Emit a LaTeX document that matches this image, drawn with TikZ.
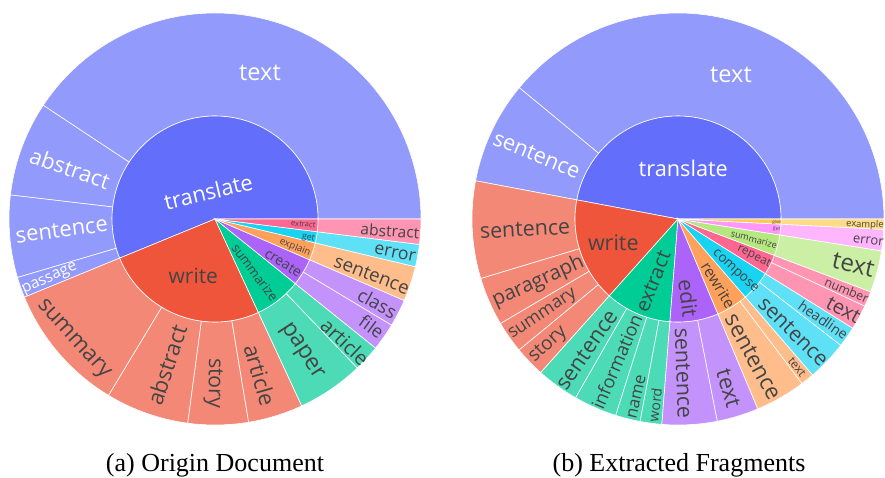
\documentclass[tikz,border=0pt]{standalone}
\usepackage{fontspec}
\setmainfont{Liberation Serif}
\newfontfamily\plotfont{Open Sans}
\usepackage{xcolor}
\usepackage{tikz}
\definecolor{pBlue}{HTML}{636EFA}
\definecolor{pRed}{HTML}{EF553B}
\definecolor{pGreen}{HTML}{00CC96}
\definecolor{pPurple}{HTML}{AB63FA}
\definecolor{pOrange}{HTML}{FFA15A}
\definecolor{pCyan}{HTML}{19D3F3}
\definecolor{pPink}{HTML}{FF6692}
\definecolor{pLime}{HTML}{B6E880}
\definecolor{pMagenta}{HTML}{FF97FF}
\definecolor{pYellow}{HTML}{FECB52}
\definecolor{darktxt}{HTML}{444444}
\newcommand{\pf}[1]{\plotfont\fontsize{#1}{#1}\selectfont}
% inner wedge: colour, radius, start, end
\newcommand{\piewedge}[4]{\fill[#1, sector] (0,0) -- (#3:#2) arc[start angle=#3, end angle=#4, radius=#2] -- cycle;}
% outer ring piece: colour, inner r, outer r, start, end
\newcommand{\ringpart}[5]{\fill[#1!70!white, sector] (#4:#2) arc[start angle=#4, end angle=#5, radius=#2] -- (#5:#3) arc[start angle=#5, end angle=#4, radius=#3] -- cycle;}
\tikzset{
    sector/.style={
        draw=white, line width=0.6pt
    },
    lbl/.style={
        inner sep=0pt, text=darktxt, anchor=center
    },
    lblw/.style={
        lbl, text=white
    },
    caption/.style={
        font=\fontsize{26}{26}\selectfont, inner sep=0pt, anchor=base
    }
}
\begin{document}
\begin{tikzpicture}[x=1pt, y=1pt]
    \useasboundingbox (0,0) rectangle (885,477);

    % 1. ORIGIN DOCUMENT
    \begin{scope}[shift={(215,258)}]
        \ringpart{pBlue}{103}{206}{0}{146.5}
        \ringpart{pBlue}{103}{206}{146.5}{173.3}
        \ringpart{pBlue}{103}{206}{173.3}{196.5}
        \ringpart{pBlue}{103}{206}{196.5}{202.3}
        \ringpart{pRed}{103}{206}{202.3}{238.9}
        \ringpart{pRed}{103}{206}{238.9}{262.4}
        \ringpart{pRed}{103}{206}{262.4}{279.4}
        \ringpart{pRed}{103}{206}{279.4}{294.9}
        \ringpart{pGreen}{103}{206}{294.9}{313.7}
        \ringpart{pGreen}{103}{206}{313.7}{321.2}
        \ringpart{pPurple}{103}{206}{321.2}{329}
        \ringpart{pPurple}{103}{206}{329}{336.7}
        \ringpart{pOrange}{103}{206}{336.7}{346.6}
        \ringpart{pCyan}{103}{206}{346.6}{352.9}
        \ringpart{pPink}{103}{206}{352.9}{360}
        \piewedge{pBlue}{103}{0}{202.3}
        \piewedge{pRed}{103}{202.3}{294.9}
        \piewedge{pGreen}{103}{294.9}{321.2}
        \piewedge{pPurple}{103}{321.2}{336.7}
        \piewedge{pOrange}{103}{336.7}{346.6}
        \piewedge{pCyan}{103}{346.6}{352.9}
        \piewedge{pPink}{103}{352.9}{360}

        % inner labels
        \node[lblw, rotate=13.5, font=\pf{22}] (aTranslate) at (-6.7,27.3) {translate};
        \node[lbl, font=\pf{21}] (aWrite) at (-21.7,-57) {write};
        \node[lbl, rotate=-53.3, font=\pf{13}] (aSummarize) at (40,-53.7) {summarize};
        \node[lbl, rotate=-32, font=\pf{14}] (aCreate) at (68.3,-44.3) {create};
        \node[lbl, rotate=-22.3, font=\pf{9.6}] (aExplain) at (80,-28.7) {explain};
        \node[lbl, rotate=-12, font=\pf{8.8}] (aGet) at (93.3,-18.7) {get};
        \node[lbl, rotate=-5, font=\pf{7.7}] (aExtract) at (88.3,-5.3) {extract};

        % outer labels
        \node[lblw, font=\pf{23.5}] (aText) at (45,146.3) {text};
        \node[lblw, rotate=-19.5, font=\pf{22}] (aAbstractT) at (-145,50.7) {abstract};
        \node[lblw, rotate=7.4, font=\pf{22}] (aSentenceT) at (-153.3,-11) {sentence};
        \node[lblw, rotate=24.4, font=\pf{15.6}] (aPassage) at (-165,-60.3) {passage};
        \node[lbl, rotate=-47.7, font=\pf{22.4}] (aSummary) at (-141.7,-121) {summary};
        \node[lbl, rotate=71.7, font=\pf{22}] (aAbstractW) at (-48.3,-146) {abstract};
        \node[lbl, rotate=-90.6, font=\pf{21.4}] (aStory) at (-1.7,-164.3) {story};
        \node[lbl, rotate=-73.9, font=\pf{22}] (aArticleW) at (45,-156) {article};
        \node[lbl, rotate=-56.8, font=\pf{23}] (aPaper) at (86.7,-132.7) {paper};
        \node[lbl, rotate=-43.3, font=\pf{20}] (aArticleS) at (130,-122.7) {article};
        \node[lbl, rotate=-36, font=\pf{18}] (aFile) at (156.7,-107.7) {file};
        \node[lbl, rotate=-29, font=\pf{18.5}] (aClass) at (162.3,-84.3) {class};
        \node[lbl, rotate=-21, font=\pf{18.7}] (aSentenceE) at (156.7,-56) {sentence};
        \node[lbl, rotate=-11, font=\pf{17.6}] (aError) at (180,-34.3) {error};
        \node[lbl, rotate=-4, font=\pf{15.6}] (aAbstractE) at (175,-12) {abstract};
    \end{scope}

    % 2. EXTRACTED FRAGMENTS
    \begin{scope}[shift={(678,258)}]
        \ringpart{pBlue}{103}{206}{0}{140.4}
        \ringpart{pBlue}{103}{206}{140.4}{169.3}
        \ringpart{pRed}{103}{206}{169.3}{196.8}
        \ringpart{pRed}{103}{206}{196.8}{210.5}
        \ringpart{pRed}{103}{206}{210.5}{219.5}
        \ringpart{pRed}{103}{206}{219.5}{228.2}
        \ringpart{pGreen}{103}{206}{228.2}{240.2}
        \ringpart{pGreen}{103}{206}{240.2}{252.4}
        \ringpart{pGreen}{103}{206}{252.4}{259.4}
        \ringpart{pGreen}{103}{206}{259.4}{265.5}
        \ringpart{pPurple}{103}{206}{265.5}{281}
        \ringpart{pPurple}{103}{206}{281}{292.8}
        \ringpart{pOrange}{103}{206}{292.8}{307}
        \ringpart{pOrange}{103}{206}{307}{310.8}
        \ringpart{pCyan}{103}{206}{310.8}{322.2}
        \ringpart{pCyan}{103}{206}{322.2}{328}
        \ringpart{pPink}{103}{206}{328}{335}
        \ringpart{pPink}{103}{206}{335}{339.3}
        \ringpart{pLime}{103}{206}{339.3}{351.1}
        \ringpart{pMagenta}{103}{206}{351.1}{357.1}
        \ringpart{pYellow}{103}{206}{357.1}{360}
        \piewedge{pBlue}{103}{0}{169.3}
        \piewedge{pRed}{103}{169.3}{228.2}
        \piewedge{pGreen}{103}{228.2}{265.5}
        \piewedge{pPurple}{103}{265.5}{292.8}
        \piewedge{pOrange}{103}{292.8}{310.8}
        \piewedge{pCyan}{103}{310.8}{328}
        \piewedge{pPink}{103}{328}{339.3}
        \piewedge{pLime}{103}{339.3}{351.1}
        \piewedge{pMagenta}{103}{351.1}{357.1}
        \piewedge{pYellow}{103}{357.1}{360}

        % inner labels
        \node[lblw, font=\pf{21.7}] (bTranslate) at (5.3,50.7) {translate};
        \node[lbl, font=\pf{21.5}] (bWrite) at (-64.7,-23.7) {write};
        \node[lbl, rotate=68.5, font=\pf{20}] (bExtract) at (-24.7,-62.7) {extract};
        \node[lbl, rotate=-82.6, font=\pf{21}] (bEdit) at (10.3,-79.3) {edit};
        \node[lbl, rotate=-58.6, font=\pf{15.5}] (bRewrite) at (40.3,-66) {rewrite};
        \node[lbl, rotate=-42.8, font=\pf{13.5}] (bCompose) at (57,-52.7) {compose};
        \node[lbl, rotate=-26.4, font=\pf{11.8}] (bRepeat) at (76,-37.7) {repeat};
        \node[lbl, rotate=-15, font=\pf{9.1}] (bSummarize) at (76,-20.3) {summarize};
        \node[lbl, rotate=-6, font=\pf{5}] (bGet) at (98.7,-10.3) {get};
        \node[lbl, rotate=-2, font=\pf{4.5}] (bGive) at (98.7,-3.7) {give};

        % outer labels
        \node[lblw, font=\pf{23.5}] (bText) at (53,144) {text};
        \node[lblw, rotate=-22.4, font=\pf{21.8}] (bSentenceT) at (-141.3,64) {sentence};
        \node[lbl, rotate=3, font=\pf{21.4}] (bSentenceW) at (-153,-10.3) {sentence};
        \node[lbl, rotate=24.4, font=\pf{20.4}] (bParagraph) at (-139.7,-62.7) {paragraph};
        \node[lbl, rotate=33.7, font=\pf{17.6}] (bSummary) at (-134.7,-96) {summary};
        \node[lbl, rotate=42.3, font=\pf{19}] (bStory) at (-129.7,-126) {story};
        \node[lbl, rotate=55.1, font=\pf{21.7}] (bSentenceX) at (-91.3,-131) {sentence};
        \node[lbl, rotate=66.8, font=\pf{18.3}] (bInformation) at (-61.3,-142.7) {information};
        \node[lbl, rotate=76.9, font=\pf{16.7}] (bName) at (-41.3,-177.7) {name};
        \node[lbl, rotate=83, font=\pf{14}] (bWord) at (-23,-186) {word};
        \node[lbl, rotate=-88, font=\pf{21.5}] (bSentenceE) at (5.3,-154.3) {sentence};
        \node[lbl, rotate=-73.5, font=\pf{22}] (bTextE) at (50.3,-169.3) {text};
        \node[lbl, rotate=-61.3, font=\pf{22.4}] (bSentenceR) at (75.3,-137.7) {sentence};
        \node[lbl, rotate=-51.5, font=\pf{12}] (bTextR) at (119,-148) {text};
        \node[lbl, rotate=-44.3, font=\pf{21}] (bSentenceC) at (115.3,-112.7) {sentence};
        \node[lbl, rotate=-34.8, font=\pf{14}] (bHeadline) at (145.3,-101) {headline};
        \node[lbl, rotate=-28.8, font=\pf{20}] (bTextP) at (165.3,-91) {text};
        \node[lbl, rotate=-22.8, font=\pf{12.4}] (bNumber) at (168.7,-71) {number};
        \node[lbl, rotate=-13.5, font=\pf{24}] (bTextS) at (175.3,-46) {text};
        \node[lbl, rotate=-6.5, font=\pf{13}] (bError) at (190.3,-21.7) {error};
        \node[lbl, rotate=-2, font=\pf{9.4}] (bExample) at (187,-6) {example};
    \end{scope}

    % 3. CAPTIONS
    \node[caption] (capA) at (215,5.5) {(a) Origin Document};
    \node[caption] (capB) at (679,5.5) {(b) Extracted Fragments};
\end{tikzpicture}
\end{document}
